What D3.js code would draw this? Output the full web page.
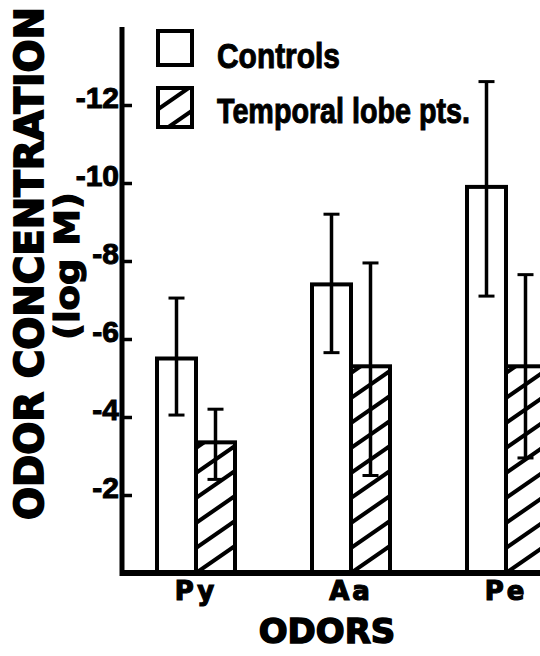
<!DOCTYPE html>
<html>
<head>
<meta charset="utf-8">
<script src="https://cdn.jsdelivr.net/npm/d3@7"></script>
<style>
  html, body { margin: 0; padding: 0; background: #fff; }
  svg { display: block; }
</style>
</head>
<body>
<svg id="chart" width="540" height="656"></svg>
<script>
// ---- data (values in log M) ----
const categories = ["Py", "Aa", "Pe"];
const seriesNames = ["Controls", "Temporal lobe pts."];
const controlsMean = [-5.5, -7.4, -9.9];
const controlsErrHigh = [-7.05, -9.2, -12.6];
const controlsErrLow = [-4.05, -5.65, -7.1];
const temporalMean = [-3.35, -5.3, -5.3];
const temporalErrHigh = [-4.2, -7.95, -7.65];
const temporalErrLow = [-2.4, -2.5, -2.95];
const yTicks = [-2, -4, -6, -8, -10, -12];
const yTickLabels = ["-2", "-4", "-6", "-8", "-10", "-12"];
const yTitle = "ODOR  CONCENTRATION";
const yUnit = "(log  M)";
const xTitle = "ODORS";

const seriesData = [
  { name: seriesNames[0], mean: controlsMean, hi: controlsErrHigh, lo: controlsErrLow, hatch: false },
  { name: seriesNames[1], mean: temporalMean, hi: temporalErrHigh, lo: temporalErrLow, hatch: true }
];

const svg = d3.select("#chart");
const baseY = 573;
const axisX = 122;

const y = d3.scaleLinear().domain([0, -14]).range([baseY, 27]);
const x = d3.scaleBand().domain(categories).range([157, 545]).paddingInner(77 / 155).paddingOuter(0).align(0);
const xs = d3.scaleBand().domain(seriesNames).range([0, x.bandwidth()]);

const defs = svg.append("defs");
function makeHatch(id, ox, oy) {
  const p = defs.append("pattern")
    .attr("id", id)
    .attr("patternUnits", "userSpaceOnUse")
    .attr("x", ox).attr("y", oy)
    .attr("width", 36).attr("height", 25);
  p.append("rect").attr("width", 36).attr("height", 25).attr("fill", "#fff");
  p.append("path")
    .attr("d", "M-36,25 L36,-25 M0,25 L36,0 M0,50 L72,0 M-36,50 L72,-25")
    .attr("stroke", "#000").attr("stroke-width", 4).attr("fill", "none");
}

// bars
const flat = [];
seriesData.forEach((s, si) => {
  categories.forEach((c, ci) => {
    flat.push({ s, si, c, ci, v: s.mean[ci], hi: s.hi[ci], lo: s.lo[ci] });
  });
});
flat.forEach(d => {
  if (d.s.hatch) makeHatch("hatch-" + d.ci, x(d.c) + xs(d.s.name), baseY);
});

const g = svg.append("g");
g.selectAll("rect.bar").data(flat).join("rect")
  .attr("class", "bar")
  .attr("x", d => x(d.c) + xs(d.s.name))
  .attr("y", d => y(d.v))
  .attr("width", xs.bandwidth())
  .attr("height", d => y(0) - y(d.v))
  .attr("fill", d => d.s.hatch ? "url(#hatch-" + d.ci + ")" : "#fff")
  .attr("stroke", "#000").attr("stroke-width", 4);

// error bars
const eb = g.selectAll("g.err").data(flat).join("g").attr("class", "err")
  .attr("transform", d => `translate(${x(d.c) + xs(d.s.name) + xs.bandwidth() / 2},0)`);
eb.append("line").attr("y1", d => y(d.hi)).attr("y2", d => y(d.lo))
  .attr("stroke", "#000").attr("stroke-width", 3.5);
eb.append("line").attr("x1", -8).attr("x2", 8).attr("y1", d => y(d.hi)).attr("y2", d => y(d.hi))
  .attr("stroke", "#000").attr("stroke-width", 3);
eb.append("line").attr("x1", -8).attr("x2", 8).attr("y1", d => y(d.lo)).attr("y2", d => y(d.lo))
  .attr("stroke", "#000").attr("stroke-width", 3);

// y axis
const yAxis = d3.axisLeft(y).tickValues(yTicks)
  .tickFormat((d, i) => yTickLabels[i])
  .tickSizeInner(-10).tickSizeOuter(0).tickPadding(3);
const ya = svg.append("g").attr("transform", `translate(${axisX},0)`).call(yAxis);
ya.select(".domain").remove();
ya.selectAll(".tick line").attr("stroke", "#000").attr("stroke-width", 3.5);
ya.selectAll(".tick text")
  .attr("dy", "2")
  .attr("fill", "#000")
  .attr("stroke", "#000").attr("stroke-width", 1)
  .style("font-family", "'Liberation Sans', Arial, sans-serif")
  .style("font-weight", "bold")
  .style("font-size", "30px");
svg.append("line").attr("x1", axisX).attr("x2", axisX).attr("y1", y(-14)).attr("y2", baseY + 3)
  .attr("stroke", "#000").attr("stroke-width", 5);
svg.append("line").attr("x1", axisX - 2).attr("x2", 540).attr("y1", baseY).attr("y2", baseY)
  .attr("stroke", "#000").attr("stroke-width", 6);

// category labels
svg.selectAll("text.cat").data(categories).join("text")
  .attr("class", "cat")
  .attr("x", d => x(d) + x.bandwidth() / 2)
  .attr("y", 600)
  .attr("text-anchor", "middle")
  .attr("stroke", "#000").attr("stroke-width", 1.2)
  .style("font-family", "'DejaVu Sans', sans-serif")
  .style("font-weight", "bold")
  .style("font-size", "26px")
  .style("letter-spacing", "3px")
  .text(d => d);

// x title
svg.append("text")
  .attr("x", 327).attr("y", 643)
  .attr("text-anchor", "middle")
  .attr("stroke", "#000").attr("stroke-width", 1.5)
  .style("font-family", "'DejaVu Sans', sans-serif")
  .style("font-weight", "bold")
  .style("font-size", "34px")
  .text(xTitle);

// y titles
svg.append("text")
  .attr("transform", "translate(43,520) rotate(-90)")
  .attr("textLength", 513).attr("lengthAdjust", "spacingAndGlyphs")
  .attr("stroke", "#000").attr("stroke-width", 1.8)
  .style("font-family", "'DejaVu Sans', sans-serif")
  .style("font-weight", "bold")
  .style("font-size", "39px")
  .text(yTitle);
svg.append("text")
  .attr("transform", "translate(79,340) rotate(-90)")
  .attr("textLength", 148).attr("lengthAdjust", "spacingAndGlyphs")
  .attr("stroke", "#000").attr("stroke-width", 1.2)
  .style("font-family", "'DejaVu Sans', sans-serif")
  .style("font-weight", "bold")
  .style("font-size", "34px")
  .text(yUnit);

// legend
const legendRows = [
  { name: seriesNames[0], hatch: false, y0: 31, h: 34, ty: 68, tl: 123 },
  { name: seriesNames[1], hatch: true, y0: 88, h: 39, ty: 123, tl: 253 }
];
makeHatch("hatch-legend", 157, 127 + 8);
const lg = svg.append("g");
lg.selectAll("rect").data(legendRows).join("rect")
  .attr("x", 158).attr("y", d => d.y0).attr("width", 34).attr("height", d => d.h)
  .attr("fill", d => d.hatch ? "url(#hatch-legend)" : "#fff")
  .attr("stroke", "#000").attr("stroke-width", 4);
lg.selectAll("text").data(legendRows).join("text")
  .attr("x", 217).attr("y", d => d.ty)
  .attr("textLength", d => d.tl).attr("lengthAdjust", "spacingAndGlyphs")
  .attr("stroke", "#000").attr("stroke-width", 1)
  .style("font-family", "'Liberation Sans Narrow', 'Arial Narrow', 'Liberation Sans', sans-serif")
  .style("font-weight", "bold")
  .style("font-size", "35px")
  .text(d => d.name);
</script>
</body>
</html>
